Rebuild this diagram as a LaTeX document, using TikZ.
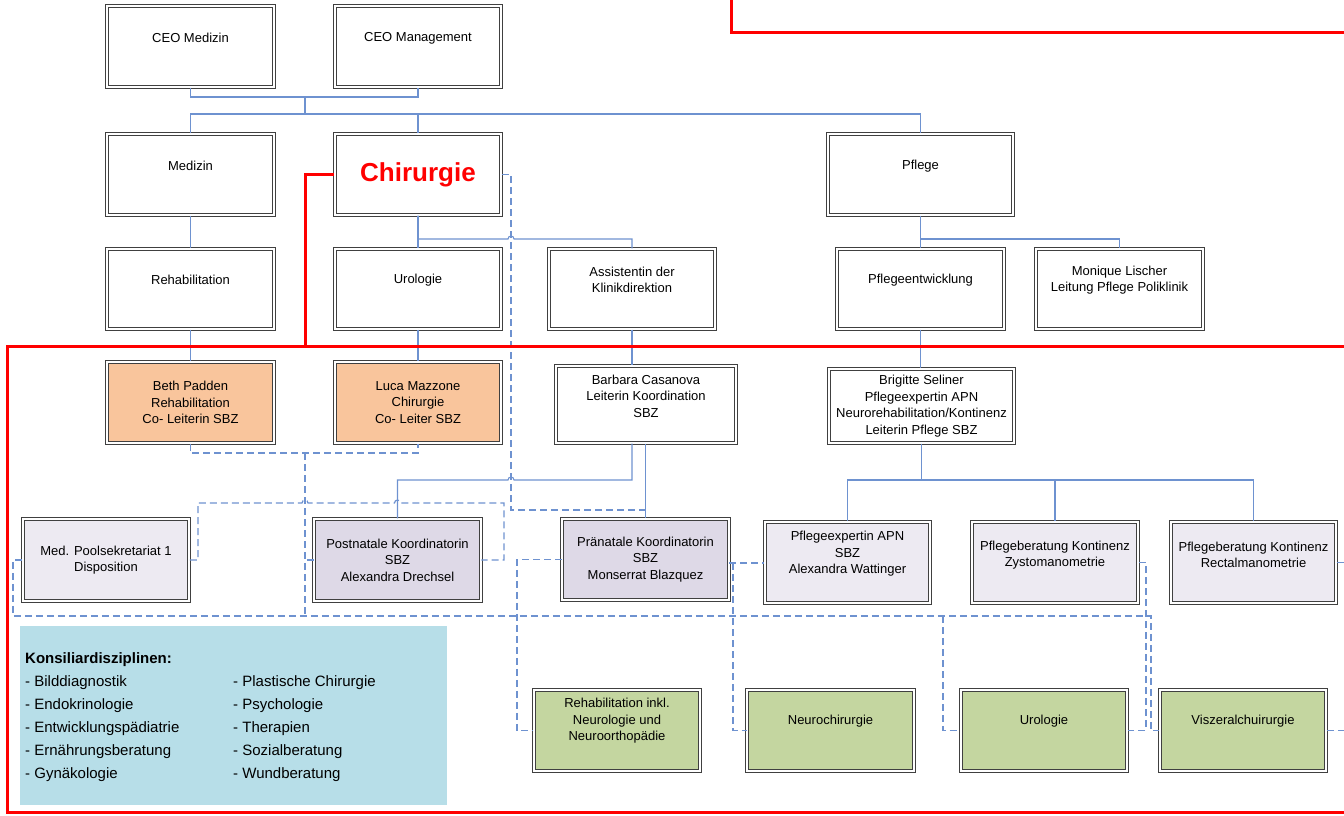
\documentclass[tikz,border=0pt]{standalone}
\usepackage{fontspec}
\setmainfont{Liberation Sans}
\definecolor{orgline}{RGB}{110,146,208}
\definecolor{leadfill}{RGB}{249,197,156}
\definecolor{lilac}{RGB}{237,234,242}
\definecolor{lilacdark}{RGB}{222,217,231}
\definecolor{konsgreen}{RGB}{196,214,160}
\definecolor{konsblue}{RGB}{183,222,232}

\begin{document}
\begin{tikzpicture}[x=1pt, y=-1pt,
		box/.style={draw=black!75, line width=1.1pt, double=white, double distance=1.8pt,
			fill=white, inner sep=0pt, align=center, font=\fontsize{13}{16.5}\selectfont,
			minimum width=166.5, minimum height=81},
		lbl/.style={align=center, inner sep=0pt, font=\fontsize{13}{16.5}\selectfont},
		solidline/.style={draw=orgline, line width=1.1pt},
		dashline/.style={draw=orgline, line width=1.2pt, dash pattern=on 7pt off 4pt},
		sbzline/.style={draw=red, line width=3pt}]
	\useasboundingbox (0,0) rectangle (1344,815);

	% Leitung
	\node[box] (ceomed) at (190.5,46.5) {};
	\node[lbl] (ceomed-t) at ([yshift=8.5pt]ceomed.center) {CEO Medizin};
	\node[box] (ceoman) at (418,46.5) {};
	\node[lbl] (ceoman-t) at ([yshift=8.5pt]ceoman.center) {CEO Management};

	% Departemente
	\node[box] (medizin) at (190.5,174.5) {};
	\node[lbl] (medizin-t) at ([yshift=8.5pt]medizin.center) {Medizin};
	\node[box, text=red, font=\fontsize{26}{30}\selectfont\bfseries] (chir) at (418,174.5) {Chirurgie};
	\node[box, minimum width=185] (pflege) at (920.5,174.5) {};
	\node[lbl] (pflege-t) at ([yshift=8.5pt]pflege.center) {Pflege};

	\node[box, minimum height=80] (rehab) at (190.5,289) {};
	\node[lbl] (rehab-t) at ([yshift=9pt]rehab.center) {Rehabilitation};
	\node[box, minimum height=80] (urol) at (418,289) {};
	\node[lbl] (urol-t) at ([yshift=9pt]urol.center) {Urologie};
	\node[box, minimum height=80] (assist) at (632,289) {};
	\node[lbl] (assist-t) at ([yshift=9pt]assist.center) {Assistentin der\\Klinikdirektion};
	\node[box, minimum height=80] (pflent) at (920.5,289) {};
	\node[lbl] (pflent-t) at ([yshift=9pt]pflent.center) {Pflegeentwicklung};
	\node[box, minimum height=80] (lischer) at (1119.5,289) {};
	\node[lbl] (lischer-t) at ([yshift=9pt]lischer.center) {Monique Lischer\\Leitung Pflege Poliklinik};

	% SBZ
	\node[box, fill=leadfill] (padden) at (190.5,402.5) {Beth Padden\\Rehabilitation\\Co- Leiterin SBZ};
	\node[box, fill=leadfill] (mazzone) at (418,402.5) {Luca Mazzone\\Chirurgie\\Co- Leiter SBZ};
	\node[box, minimum width=180, minimum height=77] (casanova) at (646,404.5) {};
	\node[lbl] (casanova-t) at ([yshift=8.5pt]casanova.center) {Barbara Casanova\\Leiterin Koordination\\SBZ};
	\node[box, minimum width=185, minimum height=74] (seliner) at (921.5,406) {Brigitte Seliner\\Pflegeexpertin APN\\Neurorehabilitation/Kontinenz\\Leiterin Pflege SBZ};

	\node[box, fill=lilac, minimum height=82] (pool) at (106,560) {Med. Poolsekretariat 1\\Disposition};
	\node[box, fill=lilacdark, minimum height=82] (post) at (397.5,560) {Postnatale Koordinatorin\\SBZ\\Alexandra Drechsel};
	\node[box, fill=lilacdark] (prae) at (645.5,559.5) {Pränatale Koordinatorin\\SBZ\\Monserrat Blazquez};
	\node[box, fill=lilac, minimum width=165] (pexp) at (847.5,562.5) {};
	\node[lbl] (pexp-t) at ([yshift=8.5pt]pexp.center) {Pflegeexpertin APN\\SBZ\\Alexandra Wattinger};
	\node[box, fill=lilac] (zysto) at (1055,562.5) {};
	\node[lbl] (zysto-t) at ([yshift=7.5pt]zysto.center) {Pflegeberatung Kontinenz\\Zystomanometrie};
	\node[box, fill=lilac, minimum width=165] (rectal) at (1253.5,562.5) {};
	\node[lbl] (rectal-t) at ([yshift=7.5pt]rectal.center) {Pflegeberatung Kontinenz\\Rectalmanometrie};

	% Konsiliardienste
	\node[box, fill=konsgreen] (gr1) at (617,730.5) {};
	\node[lbl] (gr1-t) at ([yshift=9.5pt]gr1.center) {Rehabilitation inkl.\\Neurologie und\\Neuroorthopädie};
	\node[box, fill=konsgreen] (gr2) at (830.5,730.5) {};
	\node[lbl] (gr2-t) at ([yshift=9.5pt]gr2.center) {Neurochirurgie};
	\node[box, fill=konsgreen] (gr3) at (1044,730.5) {};
	\node[lbl] (gr3-t) at ([yshift=9.5pt]gr3.center) {Urologie};
	\node[box, fill=konsgreen] (gr4) at (1243,730.5) {};
	\node[lbl] (gr4-t) at ([yshift=9.5pt]gr4.center) {Viszeralchuirurgie};

	\node[fill=konsblue, inner sep=0pt, minimum width=427, minimum height=179, anchor=north west] (konsil) at (20,626) {};
	\node[anchor=north west, align=left, inner sep=0pt, font=\fontsize{15}{23}\selectfont] (konsil-l) at (25,652)
		{\textbf{Konsiliardisziplinen:}\\- Bilddiagnostik\\- Endokrinologie\\- Entwicklungspädiatrie\\- Ernährungsberatung\\- Gynäkologie};
	\node[anchor=north west, align=left, inner sep=0pt, font=\fontsize{15}{23}\selectfont] (konsil-r) at (233,675)
		{- Plastische Chirurgie\\- Psychologie\\- Therapien\\- Sozialberatung\\- Wundberatung};

	% Knickpunkte
	\coordinate (ceojoin) at (305,97);
	\coordinate (topbar) at (305,114);
	\coordinate (jumpa) at (511,239);
	\coordinate (pflbar) at (920.5,239);
	\coordinate (jumpb) at (511,480);
	\coordinate (selbar) at (921.5,480);
	\coordinate (cobar) at (305,453);
	\coordinate (loopl) at (198,503);
	\coordinate (loopr) at (504,503);
	\coordinate (jumpc) at (305,503);
	\coordinate (jumpd) at (397.5,503);
	\coordinate (praejoin) at (645.5,510);
	\coordinate (busl) at (13,616);
	\coordinate (busr) at (1151,616);
	\coordinate (j1) at (733,563);
	\coordinate (j2) at (517,616);
	\coordinate (j3) at (943,616);
	\coordinate (j4) at (1146,616);
	\coordinate (rand) at (1350,0);

	% Linien
	\draw[solidline] (ceomed.south) |- (ceojoin) -| (ceoman.south);
	\draw[solidline] (ceojoin) -- (topbar);
	\draw[solidline] (medizin.north) |- (topbar) -| (pflege.north);
	\draw[solidline] (chir.north) -- (chir.north |- topbar);
	\draw[solidline] (medizin.south) -- (rehab.north);
	\draw[solidline] (chir.south) -- (urol.north);
	\draw[solidline] (chir.south) |- ([xshift=-3pt]jumpa) arc(180:0:3pt) -| (assist.north);
	\draw[solidline] (pflege.south) -- (pflent.north);
	\draw[solidline] (pflbar) -| (lischer.north);
	\draw[solidline] (rehab.south) -- (padden.north);
	\draw[solidline] (urol.south) -- (mazzone.north);
	\draw[solidline] (assist.south) -- (assist.south |- casanova.north);
	\draw[solidline] (casanova.south -| assist.south) |- ([xshift=3pt]jumpb) arc(0:180:3pt) -| (post.north);
	\draw[solidline] (prae.north |- casanova.south) -- (prae.north);
	\draw[solidline] (pflent.south) -- (pflent.south |- seliner.north);
	\draw[solidline] (seliner.south) -- (selbar);
	\draw[solidline] (pexp.north) |- (selbar) -| (rectal.north);
	\draw[solidline] (zysto.north) -- (zysto.north |- selbar);

	\draw[dashline] (padden.south) |- (cobar) -| (mazzone.south);
	\draw[dashline] (cobar) -- (cobar |- busl);
	\draw[dashline] (pool.west) -| (busl) -- (busr) |- (gr4.west);
	\draw[dashline] (pool.east) -| (loopl) -- ([xshift=-3pt]jumpc) arc(180:0:3pt)
		-- ([xshift=-3pt]jumpd) arc(180:0:3pt) -- (loopr) |- (post.east);
	\draw[dashline] (post.west) -- (post.west -| cobar);
	\draw[dashline] (chir.east) -| (jumpa |- praejoin) -- (praejoin);
	\draw[dashline] (prae.west) -| (j2) |- (gr1.west);
	\draw[dashline] (prae.east |- j1) -- (pexp.west |- j1);
	\draw[dashline] (j1) |- (gr2.west);
	\draw[dashline] (j3) |- (gr3.west);
	\draw[dashline] (zysto.east) -| (j4) |- (gr3.east);
	\draw[dashline] (rectal.east) -- (rectal.east -| rand);
	\draw[dashline] (gr4.east) -- (gr4.east -| rand);

	% SBZ-Rahmen
	\draw[sbzline] (731,-5) |- (1350,32);
	\draw[sbzline] (chir.west) -| (305,346);
	\draw[sbzline] (1350,346) -- (7,346) -- (7,812) -- (1350,812);
\end{tikzpicture}
\end{document}
